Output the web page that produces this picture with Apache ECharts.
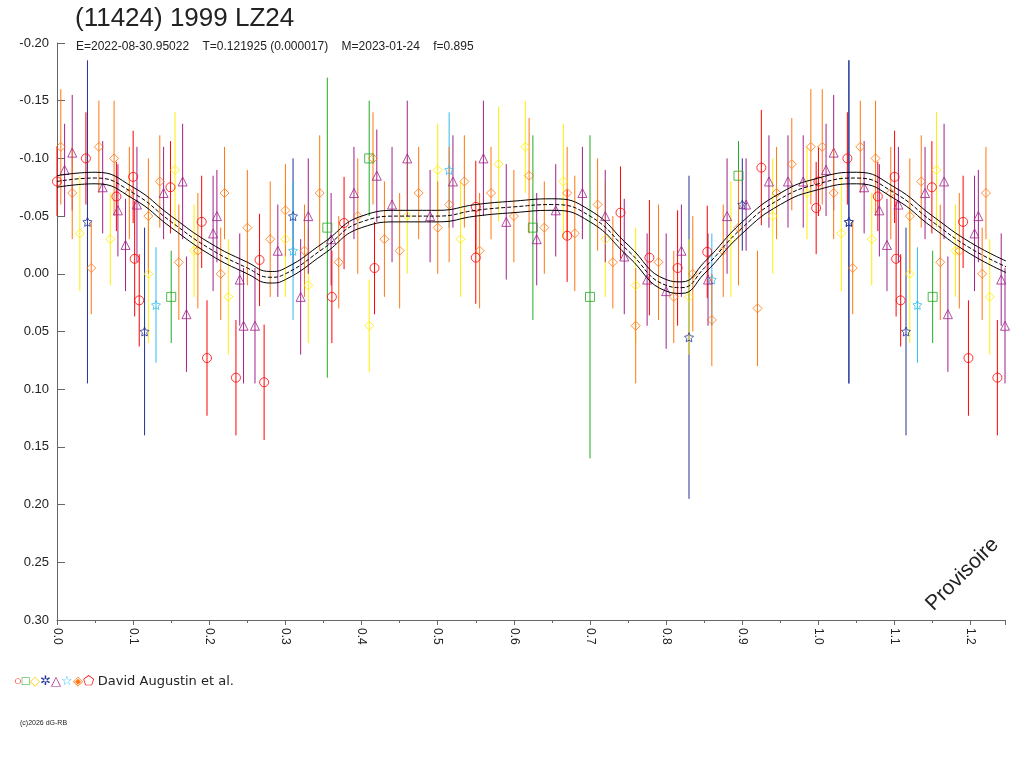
<!DOCTYPE html>
<html>
<head>
<meta charset="utf-8">
<title>1999 LZ24</title>
<script src="https://cdn.jsdelivr.net/npm/echarts@6/dist/echarts.min.js"></script>
<style>body{margin:0;background:#fff}#main{width:1024px;height:768px}</style>
</head>
<body>
<div id="main"></div>
<script>
// phase, magnitude, error  (phases < 0.25 are repeated at +1)
var redPts = [[0,-0.08,0.03],[0.038,-0.10,0.04],[0.078,-0.067,0.03],[0.10,-0.084,0.04],[0.102,-0.013,0.05],[0.108,0.023,0.04],
  [0.149,-0.075,0.04],[0.197,0.073,0.05],[0.19,-0.045,0.04],[0.235,0.09,0.05],[0.266,-0.012,0.04],[0.272,0.094,0.05],
  [0.361,0.02,0.04],[0.377,-0.044,0.04],[0.417,-0.005,0.04],[0.55,-0.058,0.04],[0.55,-0.014,0.04],[0.67,-0.033,0.04],
  [0.74,-0.053,0.04],[0.778,-0.014,0.05],[0.815,-0.005,0.05],[0.854,-0.019,0.04],[0.925,-0.092,0.05],[0.997,-0.057,0.04]];
var greenPts = [[0.15,0.02,0.04],[0.355,-0.04,0.13],[0.41,-0.10,0.05],[0.625,-0.04,0.08],[0.70,0.02,0.14],[0.895,-0.085,0.03]];
var yellowPts = [[0.03,-0.035,0.05],[0.07,-0.03,0.04],[0.12,0.0,0.06],[0.155,-0.09,0.05],[0.18,-0.02,0.04],[0.225,0.02,0.05],
  [0.30,-0.03,0.05],[0.33,0.01,0.05],[0.41,0.045,0.04],[0.46,-0.05,0.05],[0.50,-0.09,0.04],[0.53,-0.03,0.05],[0.58,-0.095,0.05],
  [0.615,-0.11,0.04],[0.665,-0.08,0.05],[0.72,-0.03,0.05],[0.76,0.01,0.05],[0.83,0.02,0.05],[0.885,-0.03,0.05],[0.94,-0.05,0.05],[0.985,-0.07,0.04]];
var navyPts = [[0.04,-0.045,0.14],[0.115,0.05,0.09],[0.31,-0.05,0.05],[0.83,0.055,0.14],[0.90,-0.06,0.04],[1.04,-0.045,0.14]];
var purplePts = [[0.01,-0.09,0.04],[0.02,-0.105,0.05],[0.06,-0.075,0.04],[0.08,-0.055,0.04],[0.09,-0.025,0.04],[0.105,-0.06,0.05],
  [0.14,-0.07,0.04],[0.165,-0.08,0.05],[0.17,0.035,0.05],[0.205,-0.035,0.05],[0.21,-0.05,0.04],[0.24,0.005,0.04],[0.245,0.045,0.05],
  [0.26,0.045,0.05],[0.29,-0.02,0.04],[0.32,0.02,0.05],[0.33,-0.05,0.05],[0.36,-0.03,0.04],[0.39,-0.07,0.04],[0.42,-0.085,0.04],
  [0.44,-0.06,0.05],[0.46,-0.1,0.05],[0.49,-0.05,0.04],[0.52,-0.08,0.04],[0.56,-0.1,0.05],[0.59,-0.045,0.05],[0.63,-0.03,0.04],
  [0.655,-0.055,0.04],[0.69,-0.07,0.04],[0.72,-0.05,0.04],[0.745,-0.015,0.05],[0.775,0.005,0.04],[0.80,0.015,0.05],[0.82,-0.02,0.04],
  [0.855,0.005,0.04],[0.88,-0.05,0.05],[0.905,-0.06,0.04],[0.935,-0.08,0.04],[0.96,-0.08,0.04],[0.98,-0.08,0.04]];
var cyanPts = [[0.13,0.027,0.05],[0.31,-0.02,0.06],[0.515,-0.09,0.05],[0.86,0.005,0.04]];
var orangePts = [[0.005,-0.11,0.05],[0.02,-0.07,0.04],[0.045,-0.005,0.04],[0.055,-0.11,0.04],[0.075,-0.1,0.05],[0.095,-0.07,0.04],
  [0.12,-0.05,0.05],[0.135,-0.08,0.04],[0.16,-0.01,0.05],[0.185,-0.02,0.05],[0.215,0.0,0.04],[0.22,-0.07,0.04],[0.25,-0.04,0.05],
  [0.28,-0.03,0.05],[0.3,-0.055,0.04],[0.325,-0.02,0.04],[0.345,-0.07,0.05],[0.37,-0.01,0.04],[0.395,-0.05,0.05],[0.415,-0.1,0.04],
  [0.43,-0.03,0.05],[0.45,-0.02,0.05],[0.475,-0.07,0.04],[0.5,-0.04,0.04],[0.515,-0.06,0.05],[0.535,-0.08,0.04],[0.555,-0.02,0.05],
  [0.57,-0.07,0.04],[0.6,-0.05,0.04],[0.62,-0.085,0.05],[0.64,-0.04,0.04],[0.67,-0.07,0.04],[0.68,-0.035,0.05],[0.71,-0.06,0.04],
  [0.73,-0.01,0.04],[0.76,0.045,0.05],[0.79,-0.01,0.05],[0.81,0.02,0.04],[0.835,0.0,0.05],[0.86,0.04,0.04],[0.875,-0.02,0.04],
  [0.895,-0.04,0.05],[0.92,0.03,0.05],[0.945,-0.07,0.04],[0.965,-0.095,0.04],[0.99,-0.11,0.05]];
// fitted curve
var fitPhase = [0,0.05,0.1,0.15,0.2,0.25,0.28,0.3,0.35,0.4,0.45,0.5,0.55,0.6,0.65,0.7,0.75,0.8,0.82,0.85,0.9,0.95,1.0,1.05,1.1,1.15,1.2,1.25];
var fitMag = [-0.08,-0.083,-0.07,-0.045,-0.022,-0.005,0.003,0.0,-0.022,-0.045,-0.05,-0.05,-0.055,-0.058,-0.06,-0.05,-0.02,0.01,0.012,-0.005,-0.04,-0.065,-0.078,-0.083,-0.07,-0.045,-0.022,-0.005];

function wrap(a){var o=a.slice();a.forEach(function(p){if(p[0]<0.25)o.push([p[0]+1,p[1],p[2]]);});return o;}

var starPath='path://M0,-10L2.9,-4L9.5,-3.1L4.7,1.5L5.9,8.1L0,5L-5.9,8.1L-4.7,1.5L-9.5,-3.1L-2.9,-4Z';
var groups = [
  {d:redPts,c:'#ff0000',s:'circle',z:10},
  {d:greenPts,c:'#22aa22',s:'rect',z:8},
  {d:yellowPts,c:'#ffee00',s:'diamond',z:8},
  {d:navyPts,c:'#223399',s:starPath,z:7},
  {d:purplePts,c:'#a0208a',s:'triangle',z:9},
  {d:cyanPts,c:'#33bbee',s:starPath,z:7},
  {d:orangePts,c:'#ff7711',s:'diamond',z:9}
];
var series=[];
groups.forEach(function(g){
  var data=wrap(g.d);
  series.push({type:'custom',data:data,silent:true,z:g.z-5,
    renderItem:function(params,api){
      var a=api.coord([api.value(0),api.value(1)-api.value(2)]);
      var b=api.coord([api.value(0),api.value(1)+api.value(2)]);
      return {type:'line',shape:{x1:a[0],y1:a[1],x2:b[0],y2:b[1]},style:{stroke:g.c,lineWidth:1}};
    }});
  series.push({type:'scatter',data:data,symbol:g.s,symbolSize:9,z:g.z,
    itemStyle:{color:'rgba(0,0,0,0)',borderColor:g.c,borderWidth:1}});
});
var fitData=fitPhase.map(function(p,i){return [p,fitMag[i]];});
[0,-0.005,0.005].forEach(function(off,i){
  series.push({type:'line',smooth:0.5,symbol:'none',z:20,
    data:fitData.map(function(p){return [p[0],p[1]+off];}),
    lineStyle:{color:'#000',width:1,type:i===0?'dashed':'solid'}});
});

var chart=echarts.init(document.getElementById('main'));
chart.setOption({
  animation:false,
  grid:{left:57,top:43,right:19,bottom:148},
  xAxis:{type:'value',min:0,max:1.245,interval:0.1,
    axisLine:{onZero:false,lineStyle:{color:'#666'}},splitLine:{show:false},
    axisTick:{lineStyle:{color:'#666'}},minorTick:{show:true,splitNumber:2},
    axisLabel:{rotate:-90,showMaxLabel:false,color:'#222',fontSize:12,fontFamily:'Arial',formatter:function(v){return v.toFixed(1);}}},
  yAxis:{type:'value',inverse:true,min:-0.2,max:0.3,interval:0.05,
    axisLine:{show:true,onZero:false,lineStyle:{color:'#666'}},splitLine:{show:false},
    axisTick:{show:true,inside:true,length:8,lineStyle:{color:'#666'}},
    axisLabel:{color:'#222',fontSize:13,fontFamily:'Arial',formatter:function(v){return v.toFixed(2);}}},
  series:series,
  graphic:[
    {type:'text',left:75,top:6,style:{text:'(11424) 1999 LZ24',fontSize:26,fontFamily:'Arial',fill:'#222'}},
    {type:'text',left:76,top:41,style:{text:'E=2022-08-30.95022    T=0.121925 (0.000017)    M=2023-01-24    f=0.895',fontSize:12,fontFamily:'Arial',fill:'#222'}},
    {type:'text',left:14,top:675,style:{text:'{r|○}{g|□}{y|◇}{n|✲}{p|△}{c|☆}{o|◈}{r|⬠} David Augustin et al.',fontSize:13,fontFamily:'DejaVu Sans',fill:'#222',
      rich:{r:{fill:'#ff0000',fontSize:13},g:{fill:'#22aa22',fontSize:13},y:{fill:'#ffcc00',fontSize:13},n:{fill:'#223399',fontSize:13},p:{fill:'#a0208a',fontSize:13},c:{fill:'#33bbee',fontSize:13},o:{fill:'#ff7711',fontSize:13}}}},
    {type:'text',left:20,top:720,style:{text:'(c)2026 dG-RB',fontSize:7,fontFamily:'Arial',fill:'#222'}},
    {type:'text',x:922,y:600,rotation:Math.PI/4,style:{text:'Provisoire',fontSize:21,fontFamily:'Arial',fill:'#222'}}
  ]
});
</script>
</body>
</html>
